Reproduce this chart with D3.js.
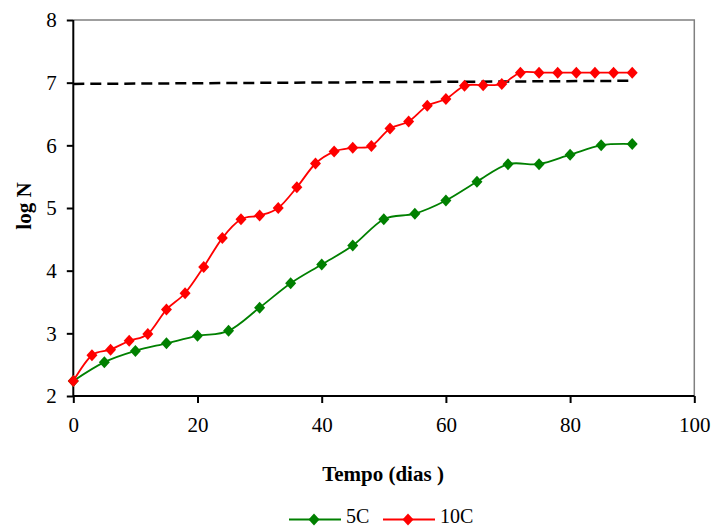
<!DOCTYPE html>
<html><head><meta charset="utf-8">
<script src="https://cdn.jsdelivr.net/npm/d3@7"></script>
<style>body{margin:0;background:#fff}svg{display:block}</style>
</head><body>
<svg id="chart" width="713" height="529"></svg>
<script>
const daysGreen = [0,5,10,15,20,25,30,35,40,45,50,55,60,65,70,75,80,85,90];
const valuesGreen = [2.24,2.54,2.72,2.84,2.96,3.04,3.41,3.80,4.10,4.40,4.82,4.91,5.12,5.42,5.70,5.70,5.85,6.00,6.02];
const daysRed = [0,3,6,9,12,15,18,21,24,27,30,33,36,39,42,45,48,51,54,57,60,63,66,69,72,75,78,81,84,87,90];
const valuesRed = [2.24,2.65,2.74,2.88,2.99,3.38,3.64,4.06,4.52,4.82,4.88,5.00,5.33,5.71,5.90,5.96,5.99,6.27,6.38,6.63,6.74,6.95,6.96,6.98,7.16,7.16,7.16,7.16,7.16,7.16,7.16];
const refDays = [0,90];
const refValues = [6.98,7.03];
const xTicks = [0,20,40,60,80,100];
const yTicks = [2,3,4,5,6,7,8];
const seriesNames = ["5C","10C"];
const seriesColors = ["#008000","#FF0000"];

const svg = d3.select("#chart");
const L = 73.3, R = 694.3, T = 20, B = 396;
const x = d3.scaleLinear().domain([0,100]).range([L,R]);
const y = d3.scaleLinear().domain([2,8]).range([B,T]);
const font = "'Liberation Serif','Times New Roman',serif";

// plot border (top/right grey)
svg.append("path").attr("d",`M${L},${T}H${R}V${B}`).attr("fill","none").attr("stroke","#808080").attr("stroke-width",1.5);

const yAxis = svg.append("g").attr("transform",`translate(${L},0)`)
  .call(d3.axisLeft(y).tickValues(yTicks).tickSize(6.5).tickPadding(10).tickFormat(d3.format("d")));
const xAxis = svg.append("g").attr("transform",`translate(0,${B})`)
  .call(d3.axisBottom(x).tickValues(xTicks).tickSize(7).tickPadding(14).tickFormat(d3.format("d")));
[yAxis,xAxis].forEach(g=>{
  g.select(".domain").attr("stroke","#000").attr("stroke-width",2);
  g.selectAll(".tick line").attr("stroke","#000").attr("stroke-width",2);
  g.selectAll(".tick text").attr("font-family",font).attr("font-size",21).attr("fill","#000");
});
yAxis.select(".domain").attr("d",`M0,${B}V${T}`);
xAxis.select(".domain").attr("d",`M${L},0H${R}`);

// dashed reference line
svg.append("path")
  .datum(refDays.map((d,i)=>[d,refValues[i]]))
  .attr("d",d3.line().x(d=>x(d[0])).y(d=>y(d[1])))
  .attr("fill","none").attr("stroke","#000").attr("stroke-width",2.5).attr("stroke-dasharray","11,6");

const diamond = "M0,-6L5.5,0L0,6L-5.5,0Z";
const line = d3.line().x(d=>x(d[0])).y(d=>y(d[1])).curve(d3.curveCatmullRom.alpha(0));
const series = [
  daysGreen.map((d,i)=>[d,valuesGreen[i]]),
  daysRed.map((d,i)=>[d,valuesRed[i]])
];
series.forEach((s,k)=>{
  svg.append("path").datum(s).attr("d",line).attr("fill","none")
    .attr("stroke",seriesColors[k]).attr("stroke-width",1.8);
  svg.append("g").selectAll("path").data(s).join("path")
    .attr("d",diamond).attr("transform",d=>`translate(${x(d[0])},${y(d[1])})`)
    .attr("fill",seriesColors[k]);
});

// axis titles
svg.append("text").attr("x",383).attr("y",481).attr("text-anchor","middle")
  .attr("font-family",font).attr("font-size",21).attr("font-weight","bold").text("Tempo (dias )");
svg.append("text").attr("transform","translate(31,206) rotate(-90)").attr("text-anchor","middle")
  .attr("font-family",font).attr("font-size",21).attr("font-weight","bold").text("log N");

// legend
const legX = [289,383];
const legY = 519.5;
seriesNames.forEach((n,k)=>{
  const g = svg.append("g");
  g.append("line").attr("x1",legX[k]).attr("x2",legX[k]+52).attr("y1",legY).attr("y2",legY)
    .attr("stroke",seriesColors[k]).attr("stroke-width",1.8);
  g.append("path").attr("d",diamond).attr("transform",`translate(${legX[k]+25},${legY})`).attr("fill",seriesColors[k]);
  g.append("text").attr("x",legX[k]+57).attr("y",legY+3).attr("font-family",font).attr("font-size",20).text(n);
});
</script>
</body></html>
